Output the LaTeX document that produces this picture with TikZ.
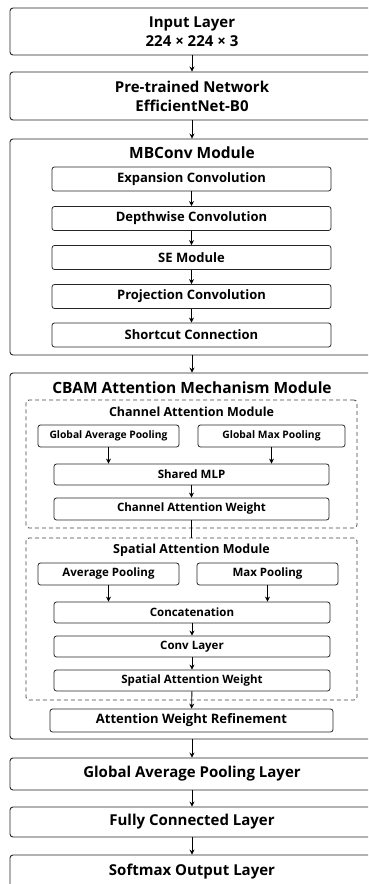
\documentclass[tikz,border=0pt]{standalone}
\usepackage{fontspec}
\setmainfont{Open Sans}
\usetikzlibrary{arrows.meta}

\tikzset{
  layerbox/.style={draw=black!85, line width=0.9pt, rounded corners=3pt, minimum width=364pt,
    inner sep=0pt, align=center, font=\fontsize{15}{19}\selectfont\bfseries},
  unitbox/.style={draw=black!85, line width=0.8pt, rounded corners=2.5pt, inner sep=0pt,
    font=\fontsize{13}{15}\selectfont\bfseries},
  smallbox/.style={unitbox, font=\fontsize{11.5}{13}\selectfont\bfseries},
  poolbox/.style={unitbox, font=\fontsize{10.3}{12}\selectfont\bfseries},
  groupbox/.style={draw=black!75, line width=0.8pt, dash pattern=on 4pt off 3pt, rounded corners=3pt,
    minimum width=331pt, inner sep=0pt},
  title/.style={font=\fontsize{15.5}{17}\selectfont\bfseries},
  subtitle/.style={font=\fontsize{12.5}{14}\selectfont\bfseries},
  flow/.style={-{Stealth[length=5pt,width=5pt]}, line width=0.9pt}
}

\begin{document}
\begin{tikzpicture}[x=1pt, y=-1pt]
  \useasboundingbox (0,0) rectangle (368,884);
  \clip (0,0) rectangle (368,884);

  \node[layerbox, minimum height=47pt] (input) at (192,31.5) {Input Layer\\224 × 224 × 3};
  \node[layerbox, minimum height=48pt] (pretrained) at (192,96) {Pre-trained Network\\EfficientNet-B0};

  \node[layerbox, minimum height=216pt] (mbconv) at (192,247) {};
  \node[title] (mbtitle) at (192,153) {MBConv Module};
  \node[unitbox, minimum width=279pt, minimum height=24pt] (expand) at (191.5,179) {Expansion Convolution};
  \node[unitbox, minimum width=279pt, minimum height=24pt] (depth) at (191.5,218.5) {Depthwise Convolution};
  \node[unitbox, minimum width=279pt, minimum height=24pt] (se) at (191.5,257.5) {SE Module};
  \node[unitbox, minimum width=279pt, minimum height=24pt] (proj) at (191.5,296.5) {Projection Convolution};
  \node[unitbox, minimum width=279pt, minimum height=24pt] (shortcut) at (191.5,335) {Shortcut Connection};

  \node[layerbox, minimum height=366pt] (cbam) at (192,556) {};
  \node[title] (cbamtitle) at (192,388) {CBAM Attention Mechanism Module};

  \node[groupbox, minimum height=128pt] (chanmod) at (191.5,464) {};
  \node[subtitle] (chantitle) at (191.5,412) {Channel Attention Module};
  \node[poolbox, minimum width=141pt, minimum height=22pt] (gap) at (108.5,436) {Global Average Pooling};
  \node[poolbox, minimum width=147pt, minimum height=22pt] (gmp) at (271.5,436) {Global Max Pooling};
  \node[smallbox, minimum width=275pt, minimum height=21pt] (mlp) at (191.5,474.5) {Shared MLP};
  \node[smallbox, minimum width=275pt, minimum height=22pt] (chanweight) at (191.5,509) {Channel Attention Weight};

  \node[groupbox, minimum height=162pt] (spatmod) at (191.5,619) {};
  \node[subtitle] (spattitle) at (191.5,550) {Spatial Attention Module};
  \node[smallbox, minimum width=141pt, minimum height=22pt] (avgpool) at (108.5,574) {Average Pooling};
  \node[smallbox, minimum width=141pt, minimum height=22pt] (maxpool) at (267.5,574) {Max Pooling};
  \node[smallbox, minimum width=276pt, minimum height=21pt] (concat) at (192,612.5) {Concatenation};
  \node[smallbox, minimum width=276pt, minimum height=21pt] (convlayer) at (192,646.5) {Conv Layer};
  \node[smallbox, minimum width=276pt, minimum height=21pt] (spatweight) at (192,680.5) {Spatial Attention Weight};
  \node[unitbox, minimum width=283pt, minimum height=23pt] (refine) at (191.5,720.5) {Attention Weight Refinement};

  \node[layerbox, minimum height=32pt] (gapool) at (192,774) {Global Average Pooling Layer};
  \node[layerbox, minimum height=30pt] (fc) at (192,822) {Fully Connected Layer};
  \node[layerbox, minimum height=34pt] (softmax) at (192,872) {Softmax Output Layer};

  \draw[flow] (input) -- (pretrained);
  \draw[flow] (pretrained) -- (mbconv);
  \draw[flow] (expand) -- (depth);
  \draw[flow] (depth) -- (se);
  \draw[flow] (se) -- (proj);
  \draw[flow] (proj) -- (shortcut);
  \draw[flow] (mbconv) -- (cbam);
  \draw[flow] (gap.south) -- (gap.south |- mlp.north);
  \draw[flow] (gmp.south) -- (gmp.south |- mlp.north);
  \draw[flow] (mlp) -- (chanweight);
  \draw[line width=0.8pt] (chanweight.south) -- (chanweight.south |- spatmod.north);
  \draw[flow] (avgpool.south) -- (avgpool.south |- concat.north);
  \draw[flow] (maxpool.south) -- (maxpool.south |- concat.north);
  \draw[flow] (concat) -- (convlayer);
  \draw[flow] (convlayer) -- (spatweight);
  \draw[flow] (spatweight) -- (refine);
  \draw[flow] (cbam) -- (gapool);
  \draw[flow] (gapool) -- (fc);
  \draw[flow] (fc) -- (softmax);
\end{tikzpicture}
\end{document}
